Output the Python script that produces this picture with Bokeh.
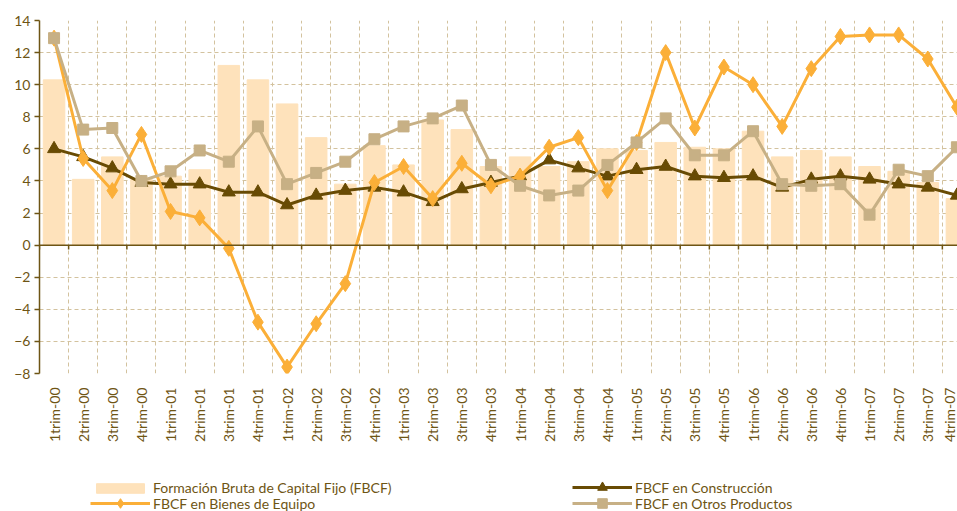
from math import pi
from bokeh.plotting import figure
from bokeh.layouts import column
from bokeh.models import FixedTicker, Span, Legend, LegendItem, Range1d
from bokeh.embed import file_html
from bokeh.resources import INLINE

quarters = ["1trim-00", "2trim-00", "3trim-00", "4trim-00",
            "1trim-01", "2trim-01", "3trim-01", "4trim-01",
            "1trim-02", "2trim-02", "3trim-02", "4trim-02",
            "1trim-03", "2trim-03", "3trim-03", "4trim-03",
            "1trim-04", "2trim-04", "3trim-04", "4trim-04",
            "1trim-05", "2trim-05", "3trim-05", "4trim-05",
            "1trim-06", "2trim-06", "3trim-06", "4trim-06",
            "1trim-07", "2trim-07", "3trim-07", "4trim-07"]

fbcf = [10.3, 4.1, 5.5, 4.1, 4.3, 4.7, 11.2, 10.3, 8.8, 6.7, 3.8, 6.2,
        5.0, 7.8, 7.2, 4.9, 5.5, 4.9, 5.2, 6.0, 5.9, 6.4, 6.1, 6.0,
        7.1, 5.5, 5.9, 5.5, 4.9, 4.6, 3.9, 2.9]

construccion = [6.0, 5.5, 4.8, 3.9, 3.8, 3.8, 3.3, 3.3, 2.5, 3.1, 3.4, 3.6,
                3.3, 2.7, 3.5, 3.9, 4.3, 5.3, 4.8, 4.3, 4.7, 4.9, 4.3, 4.2,
                4.3, 3.6, 4.1, 4.3, 4.1, 3.8, 3.6, 3.1]

equipo = [12.9, 5.4, 3.4, 6.9, 2.1, 1.7, -0.2, -4.8, -7.6, -4.9, -2.4, 3.9,
          4.9, 2.9, 5.1, 3.7, 4.3, 6.1, 6.7, 3.4, 6.4, 12.0, 7.3, 11.1,
          10.0, 7.4, 11.0, 13.0, 13.1, 13.1, 11.6, 8.6]

otros = [12.9, 7.2, 7.3, 4.0, 4.6, 5.9, 5.2, 7.4, 3.8, 4.5, 5.2, 6.6,
         7.4, 7.9, 8.7, 5.0, 3.7, 3.1, 3.4, 5.0, 6.4, 7.9, 5.6, 5.6,
         7.1, 3.8, 3.7, 3.8, 1.9, 4.7, 4.3, 6.1]

y_ticks = [-8, -6, -4, -2, 0, 2, 4, 6, 8, 10, 12, 14]

legend_labels = ["Formación Bruta de Capital Fijo (FBCF)",
                 "FBCF en Construcción",
                 "FBCF en Bienes de Equipo",
                 "FBCF en Otros Productos"]

TEXT = "#6E5514"
FONT = "Lato"
C_BAR = "#FEE2BB"
C_CONS = "#684B04"
C_EQUI = "#FBAF38"
C_OTROS = "#C7B085"
C_GRID = "#D3C29E"

n = len(quarters)
x = [i + 0.5 for i in range(n)]
bounds = list(range(n + 1))


def draw_series(fig, visible=True):
    r_bar = fig.vbar(x=x, top=fbcf, bottom=0, width=0.74, color=C_BAR, visible=visible)
    if visible:
        fig.add_layout(Span(location=0, dimension="width", line_color=TEXT, line_width=1.5))
        fig.segment(x0=bounds, y0=[0] * len(bounds), x1=bounds,
                    y1=[-0.27] * len(bounds), line_color=TEXT, line_width=1.5)
    r_cons = [fig.line(x, construccion, line_color=C_CONS, line_width=3, visible=visible),
              fig.scatter(x, construccion, marker="triangle", size=13,
                          fill_color=C_CONS, line_color=C_CONS, visible=visible)]
    r_equi = [fig.line(x, equipo, line_color=C_EQUI, line_width=3, visible=visible),
              fig.scatter(x, equipo, marker="diamond", size=16,
                          fill_color=C_EQUI, line_color=C_EQUI, visible=visible)]
    r_otros = [fig.line(x, otros, line_color=C_OTROS, line_width=3, visible=visible),
               fig.scatter(x, otros, marker="square", size=11,
                           fill_color=C_OTROS, line_color=C_OTROS, visible=visible)]
    return [r_bar], r_cons, r_equi, r_otros


# ---------------- main chart ----------------
p = figure(width=957, height=445, output_backend="svg", toolbar_location=None,
           x_range=Range1d(0, 31.52), y_range=Range1d(-8, 14),
           min_border_left=39, min_border_right=0, min_border_top=20,
           min_border_bottom=72)
p.outline_line_color = None
p.background_fill_color = "white"
p.border_fill_color = "white"

p.yaxis.ticker = FixedTicker(ticks=y_ticks)
p.yaxis.axis_line_color = TEXT
p.yaxis.axis_line_width = 1.5
p.yaxis.major_tick_line_color = TEXT
p.yaxis.major_tick_line_width = 1.5
p.yaxis.major_tick_out = 5
p.yaxis.major_tick_in = 0
p.yaxis.minor_tick_line_color = None
p.yaxis.major_label_text_font = FONT
p.yaxis.major_label_text_font_size = "14px"
p.yaxis.major_label_text_color = TEXT
p.yaxis.major_label_standoff = 4

p.xaxis.ticker = FixedTicker(ticks=x)
p.xaxis.major_label_overrides = {xv: q for xv, q in zip(x, quarters)}
p.xaxis.major_label_orientation = pi / 2
p.xaxis.axis_line_color = None
p.xaxis.major_tick_line_color = None
p.xaxis.minor_tick_line_color = None
p.xaxis.major_label_text_font = FONT
p.xaxis.major_label_text_font_size = "14px"
p.xaxis.major_label_text_color = TEXT
p.xaxis.major_label_standoff = 8

p.xgrid.ticker = FixedTicker(ticks=bounds)
for g in (p.xgrid, p.ygrid):
    g.grid_line_color = C_GRID
    g.grid_line_dash = "4 3"
    g.grid_line_width = 1

draw_series(p)

# ---------------- legend strip ----------------
q = figure(width=957, height=66, output_backend="svg", toolbar_location=None,
           x_axis_location=None, y_axis_location=None,
           min_border_left=0, min_border_right=0, min_border_top=0,
           min_border_bottom=0)
q.outline_line_color = None
q.xgrid.visible = False
q.ygrid.visible = False
q.border_fill_color = "white"
q.background_fill_color = "white"

g_bar, g_cons, g_equi, g_otros = draw_series(q, visible=False)


def make_legend(label, renderers, loc, gh):
    lg = Legend(items=[LegendItem(label=label, renderers=renderers)],
                orientation="vertical", location=loc)
    lg.padding = 0
    lg.margin = 0
    lg.spacing = 0
    lg.border_line_color = None
    lg.background_fill_alpha = 0
    lg.inactive_fill_alpha = 0
    lg.glyph_width = 60
    lg.glyph_height = gh
    lg.label_standoff = 3
    lg.label_height = gh
    lg.label_text_font = FONT
    lg.label_text_font_size = "14px"
    lg.label_text_color = TEXT
    return lg


q.add_layout(make_legend(legend_labels[0], g_bar, (51, 15), 12))
q.add_layout(make_legend(legend_labels[1], g_cons, (533, 12), 24))
q.add_layout(make_legend(legend_labels[2], g_equi, (51, -4), 24))
q.add_layout(make_legend(legend_labels[3], g_otros, (533, -4), 24))

layout = column(p, q, spacing=0)
open("out.html", "w").write(file_html(layout, INLINE))
